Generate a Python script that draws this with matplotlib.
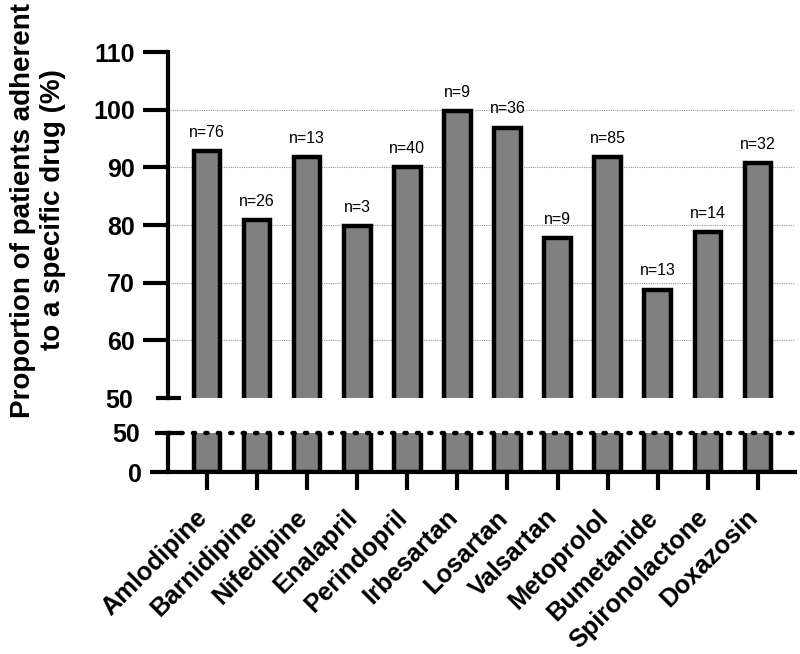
import numpy as np
import matplotlib.pyplot as plt
import matplotlib.transforms as mtransforms

drugs = ['Amlodipine', 'Barnidipine', 'Nifedipine', 'Enalapril', 'Perindopril',
         'Irbesartan', 'Losartan', 'Valsartan', 'Metoprolol', 'Bumetanide',
         'Spironolactone', 'Doxazosin']
adherence = [92.8, 80.8, 91.8, 79.8, 90.0, 99.8, 96.9, 77.8, 91.8, 68.8, 78.7, 90.7]
n_patients = [76, 26, 13, 3, 40, 9, 36, 9, 85, 13, 14, 32]

top_ticks = [60, 70, 80, 90, 100, 110]
grid_levels = [50, 60, 70, 80, 90, 100]

plt.rcParams['font.family'] = ['Liberation Sans', 'DejaVu Sans']

W, H = 800, 654
fig = plt.figure(figsize=(W / 100, H / 100), dpi=100)

def px_axes(left, top, right, bottom):
    return fig.add_axes([left / W, 1 - bottom / H, (right - left) / W, (bottom - top) / H])

ax_top = px_axes(168, 52, 795, 398)
ax_bot = px_axes(168, 433, 795, 472)

x = np.arange(len(drugs))
bar_kw = dict(width=0.53, color='#808080', edgecolor='black', linewidth=3.2)
xlim = (-0.778, 11.74)

# upper panel
ax_top.bar(x, adherence, **bar_kw)
ax_top.set_xlim(*xlim)
ax_top.set_ylim(50, 110)
for g in grid_levels:
    ax_top.axhline(g, color='#999999', linestyle=(0, (1, 1)), linewidth=0.8, zorder=0)
for s in ['top', 'right', 'bottom']:
    ax_top.spines[s].set_visible(False)
ax_top.spines['left'].set_linewidth(3)
ax_top.set_xticks([])
ax_top.set_yticks(top_ticks)
ax_top.set_yticks([50], minor=True)
ax_top.set_yticklabels([str(t) for t in top_ticks], fontsize=18, fontweight='bold')
ax_top.set_yticklabels(['50'], minor=True, fontsize=18, fontweight='bold')
ax_top.tick_params(axis='y', which='major', direction='out', length=18, width=3, pad=5.8)
ax_top.tick_params(axis='y', which='minor', direction='inout', length=18, width=3, pad=16)

for xi, v, n in zip(x, adherence, n_patients):
    ax_top.annotate(f'n={n}', (xi, v), xytext=(0, 8), textcoords='offset points',
                    ha='center', va='bottom', fontsize=11.5)

# lower panel
ax_bot.bar(x, adherence, **bar_kw)
ax_bot.set_xlim(*xlim)
ax_bot.set_ylim(0, 50)
ax_bot.axhline(50, xmin=0, xmax=1.01, color='black', linestyle=(0, (0.5, 2.3)),
               linewidth=3.2, dash_capstyle='round', clip_on=False, zorder=5)
for s in ['top', 'right']:
    ax_bot.spines[s].set_visible(False)
ax_bot.spines['left'].set_linewidth(3)
ax_bot.spines['bottom'].set_linewidth(3)
ax_bot.set_yticks([0])
ax_bot.set_yticks([50], minor=True)
ax_bot.set_yticklabels(['0'], fontsize=18, fontweight='bold')
ax_bot.set_yticklabels(['50'], minor=True, fontsize=18, fontweight='bold')
ax_bot.tick_params(axis='y', which='major', direction='out', length=13, width=3, pad=5.7)
ax_bot.tick_params(axis='y', which='minor', direction='inout', length=19.4, width=3, pad=10.4)
ax_bot.set_xticks(x)
ax_bot.set_xticklabels(drugs, rotation=45, ha='right', va='top', rotation_mode='anchor',
                       fontsize=18.3, fontweight='bold')
ax_bot.tick_params(axis='x', direction='out', length=13, width=3, pad=11)
shift = mtransforms.ScaledTranslation(-12 / 100, 0, fig.dpi_scale_trans)
for lbl in ax_bot.get_xticklabels():
    lbl.set_transform(lbl.get_transform() + shift)

fig.text(38 / W, 1 - 210 / H, 'Proportion of patients adherent\nto a specific drug (%)',
         rotation=90, ha='center', va='center', multialignment='center',
         fontsize=20, fontweight='bold')

fig.savefig('out.png', dpi=100)
